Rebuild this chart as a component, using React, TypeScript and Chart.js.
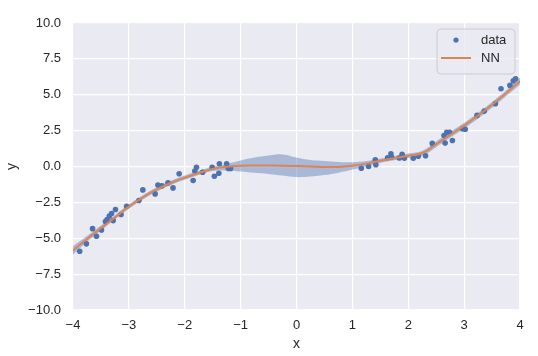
import React, { useEffect, useRef } from "react";
import { Chart, registerables } from "chart.js";

Chart.register(...registerables);

// Observed data (x, y)
const dataX = [
  -3.88, -3.76, -3.65, -3.58, -3.49, -3.42, -3.39, -3.35, -3.31, -3.28, -3.24, -3.14, -3.04,
  -2.82, -2.75, -2.53, -2.48, -2.41, -2.3, -2.21, -2.1, -1.85, -1.82, -1.79, -1.68, -1.51,
  -1.47, -1.39, -1.38, -1.25, -1.22, -1.18,
  1.16, 1.29, 1.41, 1.42, 1.63, 1.69, 1.7, 1.84, 1.89, 1.93, 2.09, 2.18, 2.31, 2.43, 2.64,
  2.66, 2.69, 2.74, 2.79, 2.97, 3.02, 3.23, 3.36, 3.56, 3.66, 3.82, 3.88, 3.92,
];
const dataY = [
  -5.91, -5.39, -4.33, -4.86, -4.42, -3.84, -3.7, -3.45, -3.28, -3.77, -3.0, -3.35, -2.77,
  -2.37, -1.63, -1.91, -1.29, -1.35, -1.14, -1.49, -0.51, -0.98, -0.31, -0.05, -0.4, -0.05,
  -0.68, -0.47, 0.19, 0.19, -0.14, -0.14,
  -0.12, 0.0, 0.47, 0.13, 0.61, 0.89, 0.66, 0.59, 0.85, 0.57, 0.57, 0.71, 0.75, 1.61, 2.16,
  1.63, 2.39, 2.39, 1.81, 2.63, 2.6, 3.56, 3.86, 4.38, 5.42, 5.65, 5.97, 6.12,
];

// NN prediction with uncertainty band
const nnX = [
  -4, -3.75, -3.5, -3.25, -3, -2.75, -2.5, -2.25, -2, -1.75, -1.5, -1.25, -1, -0.75, -0.5,
  -0.25, 0, 0.25, 0.5, 0.75, 1, 1.25, 1.5, 1.75, 2, 2.25, 2.5, 2.75, 3, 3.25, 3.5, 3.75, 4,
];
const nnMean = [
  -5.85, -5.05, -4.3, -3.55, -2.8, -2.15, -1.6, -1.15, -0.78, -0.45, -0.17, -0.02, 0.05, 0.07,
  0.07, 0.06, 0.03, 0.0, -0.03, -0.03, 0.05, 0.2, 0.4, 0.58, 0.75, 0.92, 1.55, 2.2, 2.85, 3.55,
  4.3, 5.1, 5.95,
];
const nnUpper = [
  -5.55, -4.85, -4.12, -3.4, -2.65, -2.0, -1.45, -1.0, -0.63, -0.3, -0.02, 0.18, 0.42, 0.62,
  0.76, 0.84, 0.62, 0.45, 0.38, 0.32, 0.3, 0.38, 0.55, 0.73, 0.9, 1.1, 1.75, 2.4, 3.05, 3.75,
  4.5, 5.3, 6.2,
];
const nnLower = [
  -6.15, -5.25, -4.48, -3.7, -2.95, -2.3, -1.75, -1.3, -0.93, -0.6, -0.32, -0.28, -0.35, -0.44,
  -0.52, -0.63, -0.74, -0.7, -0.6, -0.43, -0.21, 0.02, 0.25, 0.43, 0.6, 0.75, 1.35, 2.0, 2.65,
  3.35, 4.1, 4.9, 5.7,
];

const xTicks = [-4, -3, -2, -1, 0, 1, 2, 3, 4];
const yTicks = [-10, -7.5, -5, -2.5, 0, 2.5, 5, 7.5, 10];

const BLUE = "#4c72b0";
const ORANGE = "#dd8452";
const FONT = "'Liberation Sans', Arial, sans-serif";
const TEXT = "#262626";

const fmtMinus = (s: string) => s.replace("-", "\u2212");

const bgPlugin = {
  id: "bg",
  beforeDraw(chart: any) {
    const { ctx, chartArea } = chart;
    ctx.save();
    ctx.fillStyle = "#eaeaf2";
    ctx.fillRect(chartArea.left, chartArea.top, chartArea.right - chartArea.left, chartArea.bottom - chartArea.top);
    ctx.restore();
  },
};

const legendPlugin = {
  id: "customLegend",
  afterDraw(chart: any) {
    const { ctx, chartArea } = chart;
    const w = 78;
    const h = 45;
    const x = chartArea.right - 5 - w;
    const y = chartArea.top + 6;
    ctx.save();
    ctx.beginPath();
    const r = 4;
    ctx.moveTo(x + r, y);
    ctx.lineTo(x + w - r, y);
    ctx.quadraticCurveTo(x + w, y, x + w, y + r);
    ctx.lineTo(x + w, y + h - r);
    ctx.quadraticCurveTo(x + w, y + h, x + w - r, y + h);
    ctx.lineTo(x + r, y + h);
    ctx.quadraticCurveTo(x, y + h, x, y + h - r);
    ctx.lineTo(x, y + r);
    ctx.quadraticCurveTo(x, y, x + r, y);
    ctx.closePath();
    ctx.fillStyle = "rgba(234,234,242,0.8)";
    ctx.fill();
    ctx.strokeStyle = "#cccccc";
    ctx.lineWidth = 1;
    ctx.stroke();

    const ds = chart.data.datasets;
    const dataDs = ds.find((d: any) => d.legendKind === "point");
    const lineDs = ds.find((d: any) => d.legendKind === "line");
    const row1 = y + 11;
    const row2 = y + 29;
    // point marker
    ctx.fillStyle = dataDs.backgroundColor;
    ctx.beginPath();
    ctx.arc(x + 19, row1, 2.6, 0, Math.PI * 2);
    ctx.fill();
    // line marker
    ctx.strokeStyle = lineDs.borderColor;
    ctx.lineWidth = 2;
    ctx.beginPath();
    ctx.moveTo(x + 4, row2);
    ctx.lineTo(x + 34, row2);
    ctx.stroke();

    ctx.fillStyle = TEXT;
    ctx.font = `13px ${FONT}`;
    ctx.textBaseline = "middle";
    ctx.textAlign = "left";
    ctx.fillText(dataDs.label, x + 44, row1);
    ctx.fillText(lineDs.label, x + 44, row2);
    ctx.restore();
  },
};

export default function App() {
  const ref = useRef<HTMLCanvasElement>(null);

  useEffect(() => {
    if (!ref.current) return;
    const pts = (xs: number[], ys: number[]) => xs.map((x, i) => ({ x, y: ys[i] }));
    const chart = new Chart(ref.current, {
      type: "scatter",
      data: {
        datasets: [
          {
            label: "lower",
            type: "line",
            data: pts(nnX, nnLower),
            borderWidth: 0,
            borderColor: "rgba(0,0,0,0)",
            pointRadius: 0,
            fill: false,
            tension: 0.4,
            order: 1,
          } as any,
          {
            label: "upper",
            type: "line",
            data: pts(nnX, nnUpper),
            borderWidth: 0,
            borderColor: "rgba(0,0,0,0)",
            backgroundColor: "rgba(76,114,176,0.42)",
            pointRadius: 0,
            fill: "-1",
            tension: 0.4,
            order: 1,
          } as any,
          {
            label: "NN",
            legendKind: "line",
            type: "line",
            data: pts(nnX, nnMean),
            borderColor: ORANGE,
            borderWidth: 2,
            pointRadius: 0,
            fill: false,
            tension: 0.4,
            order: 0,
          } as any,
          {
            label: "data",
            legendKind: "point",
            data: pts(dataX, dataY),
            backgroundColor: BLUE,
            borderWidth: 0,
            pointRadius: 2.8,
            order: 2,
          } as any,
        ],
      },
      options: {
        responsive: false,
        animation: false,
        layout: { padding: { left: 0, top: 23, right: 18, bottom: 0 } },
        plugins: {
          legend: { display: false },
          tooltip: { enabled: false },
        },
        scales: {
          x: {
            type: "linear",
            min: -4,
            max: 4,
            afterBuildTicks: (s: any) => {
              s.ticks = xTicks.map((v) => ({ value: v }));
            },
            afterFit: (s: any) => {
              s.height = 46;
            },
            grid: { color: "#ffffff", lineWidth: 1.2, drawTicks: false },
            border: { display: false },
            ticks: {
              padding: 8,
              color: TEXT,
              font: { family: FONT, size: 13 },
              callback: (v: any) => fmtMinus(String(v)),
            },
            title: {
              display: true,
              text: "x",
              color: TEXT,
              font: { family: FONT, size: 14 },
              padding: { top: 0, bottom: 3 },
            },
          },
          y: {
            type: "linear",
            min: -10,
            max: 10,
            afterBuildTicks: (s: any) => {
              s.ticks = yTicks.map((v) => ({ value: v }));
            },
            afterFit: (s: any) => {
              s.width = 73;
            },
            grid: { color: "#ffffff", lineWidth: 1.2, drawTicks: false },
            border: { display: false },
            ticks: {
              padding: 12,
              color: TEXT,
              font: { family: FONT, size: 13 },
              callback: (v: any) => fmtMinus(Number(v).toFixed(1)),
            },
            title: {
              display: true,
              text: "y",
              color: TEXT,
              font: { family: FONT, size: 14 },
              padding: { top: 4, bottom: 0 },
            },
          },
        },
      },
      plugins: [bgPlugin, legendPlugin],
    });
    return () => chart.destroy();
  }, []);

  return (
    <div style={{ position: "fixed", left: 0, top: 0, width: 538, height: 356, background: "#fff" }}>
      <canvas ref={ref} width={538} height={356} style={{ width: 538, height: 356 }} />
    </div>
  );
}
